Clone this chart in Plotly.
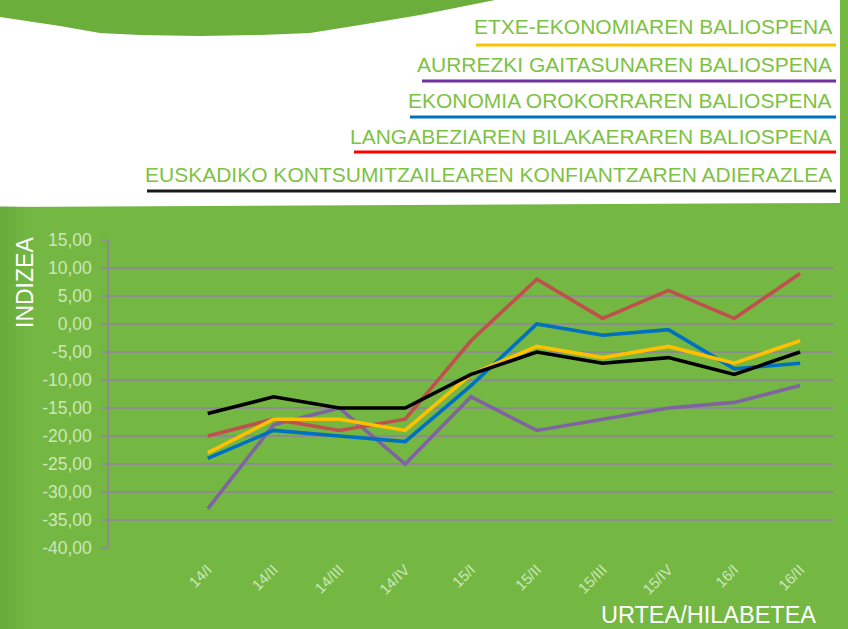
import plotly.graph_objects as go

# ---------------- data ----------------
categories = ["14/I", "14/II", "14/III", "14/IV", "15/I", "15/II", "15/III", "15/IV", "16/I", "16/II"]

series_names = [
    "ETXE-EKONOMIAREN BALIOSPENA",
    "AURREZKI GAITASUNAREN BALIOSPENA",
    "EKONOMIA OROKORRAREN BALIOSPENA",
    "LANGABEZIAREN BILAKAERAREN BALIOSPENA",
    "EUSKADIKO KONTSUMITZAILEAREN KONFIANTZAREN ADIERAZLEA",
]
etxe = [-23, -17, -17, -19, -9, -4, -6, -4, -7, -3]
aurrezki = [-33, -18, -15, -25, -13, -19, -17, -15, -14, -11]
ekonomia = [-24, -19, -20, -21, -11, 0, -2, -1, -8, -7]
langabezia = [-20, -17, -19, -17, -3, 8, 1, 6, 1, 9]
konfiantza = [-16, -13, -15, -15, -9, -5, -7, -6, -9, -5]

y_tickvals = [-40, -35, -30, -25, -20, -15, -10, -5, 0, 5, 10, 15]
y_ticktext = ["-40,00", "-35,00", "-30,00", "-25,00", "-20,00", "-15,00",
              "-10,00", "-5,00", "0,00", "5,00", "10,00", "15,00"]

# ---------------- styles ----------------
W, H = 848, 629
L, R, T, B = 109, 15, 240, 81
PW, PH = W - L - R, H - T - B

def px(x):
    return (x - L) / PW

def py(y):
    return (H - B - y) / PH

line_colors = ["#FFC000", "#8064A2", "#0070C0", "#C0504D", "#000000"]
legend_colors = ["#FFC000", "#7030A0", "#0070C0", "#FF0000", "#1A1A1A"]
values = [etxe, aurrezki, ekonomia, langabezia, konfiantza]
draw_order = [1, 3, 2, 0, 4]

GREEN = "#74B843"
GREEN_DARK = "#6BAE3C"
TEXT_GREEN = "#7DC242"
GRID = "#8C8C8C"
TICK_TXT = "#CDE6BA"
FONT = "Liberation Sans, Arial, sans-serif"

fig = go.Figure()
for i in draw_order:
    fig.add_trace(go.Scatter(
        x=categories, y=values[i], mode="lines", name=series_names[i],
        line=dict(color=line_colors[i], width=3.6), showlegend=False,
    ))

shapes = []
# white header box
shapes.append(dict(type="path", xref="paper", yref="paper", layer="below",
                   path=f"M {px(0)},{py(0)} L {px(840)},{py(0)} L {px(840)},{py(203)} L {px(0)},{py(207)} Z",
                   fillcolor="white", line=dict(width=0)))
# green top wave
wave_pts = [(0, 0), (0, 17), (60, 26), (100, 33), (140, 35), (200, 36), (260, 35), (310, 33),
            (360, 25), (420, 15), (460, 7), (495, 0)]
path = "M " + " L ".join(f"{px(a)},{py(b)}" for a, b in wave_pts) + " Z"
shapes.append(dict(type="path", xref="paper", yref="paper", layer="below",
                   path=path, fillcolor=GREEN_DARK, line=dict(width=0)))
# subtle gradient on left edge
for k, a in enumerate([0.22, 0.15, 0.09, 0.04]):
    shapes.append(dict(type="rect", xref="paper", yref="paper", layer="below",
                       x0=px(0), x1=px(8 * (k + 1)), y0=py(629), y1=py(206),
                       fillcolor=f"rgba(95,155,50,{a})", line=dict(width=0)))

annotations = []
text_centers = [26, 64, 100, 136, 174]
line_ys = [45, 81, 117, 152, 191]
line_starts = [476, 422, 410, 354, 147]
for i in range(5):
    annotations.append(dict(
        text=series_names[i], xref="paper", yref="paper",
        x=px(834), y=py(text_centers[i]), xanchor="right", yanchor="middle",
        showarrow=False, font=dict(family=FONT, size=21, color=TEXT_GREEN)))
    shapes.append(dict(type="line", xref="paper", yref="paper",
                       x0=px(line_starts[i]), x1=px(836), y0=py(line_ys[i]), y1=py(line_ys[i]),
                       line=dict(color=legend_colors[i], width=3)))

annotations.append(dict(text="INDIZEA", xref="paper", yref="paper", x=px(25), y=py(283),
                        xanchor="center", yanchor="middle", textangle=-90, showarrow=False,
                        font=dict(family=FONT, size=23, color="white")))
annotations.append(dict(text="URTEA/HILABETEA", xref="paper", yref="paper", x=px(818), y=py(615),
                        xanchor="right", yanchor="middle", showarrow=False,
                        font=dict(family=FONT, size=23.5, color="white")))

fig.update_layout(
    width=W, height=H,
    margin=dict(l=L, r=R, t=T, b=B, pad=0),
    paper_bgcolor=GREEN, plot_bgcolor="rgba(0,0,0,0)",
    shapes=shapes, annotations=annotations, showlegend=False,
    xaxis=dict(type="category", range=[-1.5, len(categories) - 0.5], showgrid=False,
               zeroline=False, showline=False, ticks="", tickangle=-45,
               ticklabelstandoff=9,
               tickfont=dict(family=FONT, size=15, color=TICK_TXT), fixedrange=True),
    xaxis2=dict(overlaying="x", anchor="free", position=py(324), range=[-1.5, len(categories) - 0.5],
                showline=True, linecolor=GRID, linewidth=1.5, ticks="outside", ticklen=5,
                tickcolor=GRID, tickwidth=1.5,
                tickvals=[k - 0.5 for k in range(len(categories) + 1)],
                showticklabels=False, showgrid=False, zeroline=False),
    yaxis=dict(range=[-40, 15], tickvals=y_tickvals, ticktext=y_ticktext,
               showgrid=True, gridcolor=GRID, gridwidth=1.5, zeroline=False,
               showline=True, linecolor=GRID, linewidth=1.5,
               ticks="outside", ticklen=6, tickcolor=GRID, tickwidth=1.5,
               ticklabelstandoff=6,
               tickfont=dict(family=FONT, size=17.5, color=TICK_TXT)),
)

fig.write_html("out.html")
